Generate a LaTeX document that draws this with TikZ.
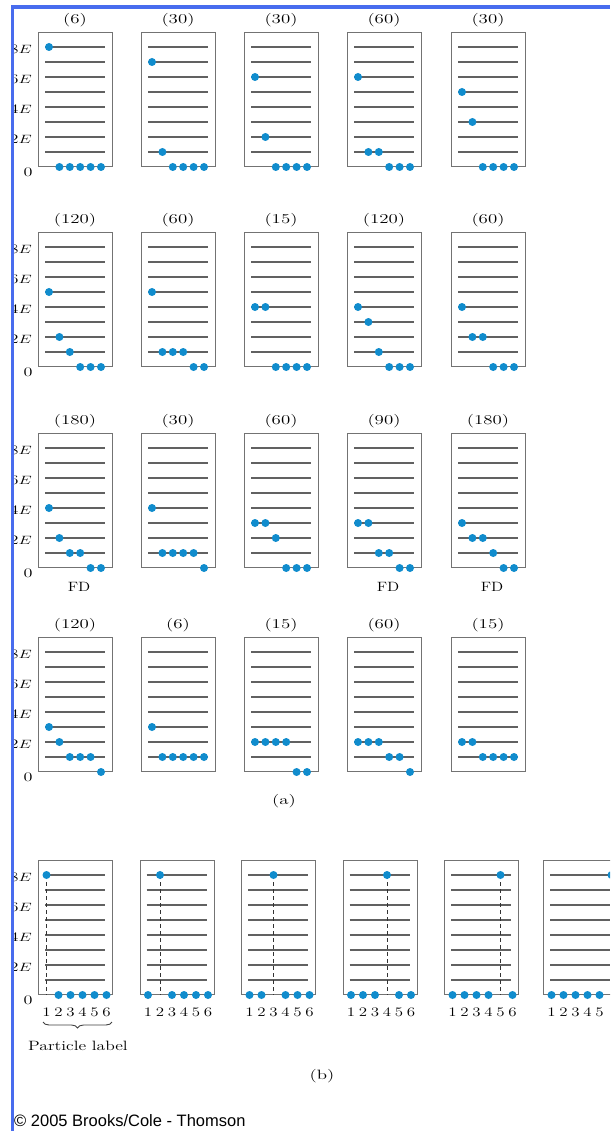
\documentclass[tikz,border=0pt]{standalone}
\usepackage{fontspec}
\newfontfamily\arialf{Liberation Sans}
\usetikzlibrary{decorations.pathreplacing}
\definecolor{dotblue}{RGB}{16,140,205}
\definecolor{frameblue}{RGB}{72,108,238}
\newcommand\sx[1]{\scalebox{1.4}[1]{#1}}
\tikzset{
  ebox/.style={draw=black!55, line width=1.3pt, minimum width=74pt, minimum height=134pt, inner sep=0pt, anchor=south west},
  lev/.style={draw=black!62, line width=1.3pt},
  pdot/.style={fill=dotblue, draw=none, circle, minimum size=8pt, inner sep=0pt},
  ttl/.style={font=\fontsize{13.5}{15}\selectfont, inner sep=0pt},
  axl/.style={font=\fontsize{13}{15}\selectfont, inner sep=0pt},
  dline/.style={draw=black!80, line width=0.8pt, dash pattern=on 4pt off 3pt},
}
% panel (a) box: name, left x, bottom y, title, energies
\newcommand\abox[5]{%
  \node[ebox] (#1) at (#2,#3) {};
  \foreach \k in {1,...,8}{\draw[lev] (#2+7,#3-15*\k) -- (#2+67,#3-15*\k);}
  \node[ttl] (#1t) at (#2+37,#3-147) {\sx{(#4)}};
  \foreach \e [count=\i from 0] in {#5}{\node[pdot] (#1d\i) at (#2+11+10.4*\i,#3-15*\e) {};}
}
% axis labels: name, bottom y
\newcommand\axlab[2]{%
  \foreach \k in {8,6,4,2}{\node[axl, anchor=east] (#1l\k) at (32,#2-15*\k+2) {\sx{\k$E$}};}
  \node[axl] (#1l0) at (28,#2+5) {\sx{0}};
}
% panel (b) box: name, left x, excited particle, number of visible digits
\newcommand\bbox[4]{%
  \node[ebox] (#1) at (#2,995) {};
  \foreach \k in {1,...,8}{\draw[lev] (#2+7,995-15*\k) -- (#2+67,995-15*\k);}
  \draw[dline] (#2+8.5+12*#3-12,875) -- (#2+8.5+12*#3-12,995);
  \foreach \i in {1,...,6}{%
    \ifnum\i=#3\relax
      \node[pdot] (#1d\i) at (#2+8.5+12*\i-12,875) {};
    \else
      \node[pdot] (#1d\i) at (#2+8.5+12*\i-12,995) {};
    \fi
  }
  \foreach \i in {1,...,#4}{\node[axl] (#1n\i) at (#2+8.5+12*\i-12,1012) {\scalebox{1.3}[1]{\i}};}
}
\begin{document}
\begin{tikzpicture}[x=1pt,y=-1pt]
\clip (0,0) rectangle (610,1131);
\fill[white] (0,0) rectangle (610,1131);
% ---- panel (a)
\abox{aa}{38}{167}{6}{8,0,0,0,0,0}
\abox{ab}{141}{167}{30}{7,1,0,0,0,0}
\abox{ac}{244}{167}{30}{6,2,0,0,0,0}
\abox{ad}{347}{167}{60}{6,1,1,0,0,0}
\abox{ae}{451}{167}{30}{5,3,0,0,0,0}
\axlab{ra}{167}
\abox{ba}{38}{367}{120}{5,2,1,0,0,0}
\abox{bb}{141}{367}{60}{5,1,1,1,0,0}
\abox{bc}{244}{367}{15}{4,4,0,0,0,0}
\abox{bd}{347}{367}{120}{4,3,1,0,0,0}
\abox{be}{451}{367}{60}{4,2,2,0,0,0}
\axlab{rb}{367}
\abox{ca}{38}{568}{180}{4,2,1,1,0,0}
\abox{cb}{141}{568}{30}{4,1,1,1,1,0}
\abox{cc}{244}{568}{60}{3,3,2,0,0,0}
\abox{cd}{347}{568}{90}{3,3,1,1,0,0}
\abox{ce}{451}{568}{180}{3,2,2,1,0,0}
\axlab{rc}{568}
\node[ttl] (fd1) at (79,587) {\scalebox{1.2}[1]{FD}};
\node[ttl] (fd2) at (388,587) {\scalebox{1.2}[1]{FD}};
\node[ttl] (fd3) at (492,587) {\scalebox{1.2}[1]{FD}};
\abox{da}{38}{772}{120}{3,2,1,1,1,0}
\abox{db}{141}{772}{6}{3,1,1,1,1,1}
\abox{dc}{244}{772}{15}{2,2,2,2,0,0}
\abox{dd}{347}{772}{60}{2,2,2,1,1,0}
\abox{de}{451}{772}{15}{2,2,1,1,1,1}
\axlab{rd}{772}
\node[ttl] (alab) at (284,801) {\sx{(a)}};
% ---- panel (b)
\bbox{pa}{38}{1}{6}
\bbox{pb}{139.5}{2}{6}
\bbox{pc}{241}{3}{6}
\bbox{pd}{342.5}{4}{6}
\bbox{pe}{444}{5}{6}
\bbox{pf}{543}{6}{5}
\axlab{re}{995}
\coordinate (brl) at (43,1022);
\coordinate (brr) at (112,1022);
\draw[black!75, line width=0.9pt, decorate, decoration={brace, amplitude=6pt}] (brr) -- (brl);
\node[ttl] (plab) at (78,1046) {\scalebox{1.3}[1]{Particle label}};
\node[ttl] (blab) at (322,1076) {\sx{(b)}};
\node[anchor=west, inner sep=0pt, font=\arialf\fontsize{16.5}{18}\selectfont] (copy) at (14,1121) {© 2005 Brooks/Cole - Thomson};
% ---- frame
\fill[white] (0,0) rectangle (10.8,1131);
\fill[white] (0,0) rectangle (610,5.2);
\draw[frameblue, line width=3.5pt] (12.5,1131) -- (12.5,7) -- (610,7);
\end{tikzpicture}
\end{document}
